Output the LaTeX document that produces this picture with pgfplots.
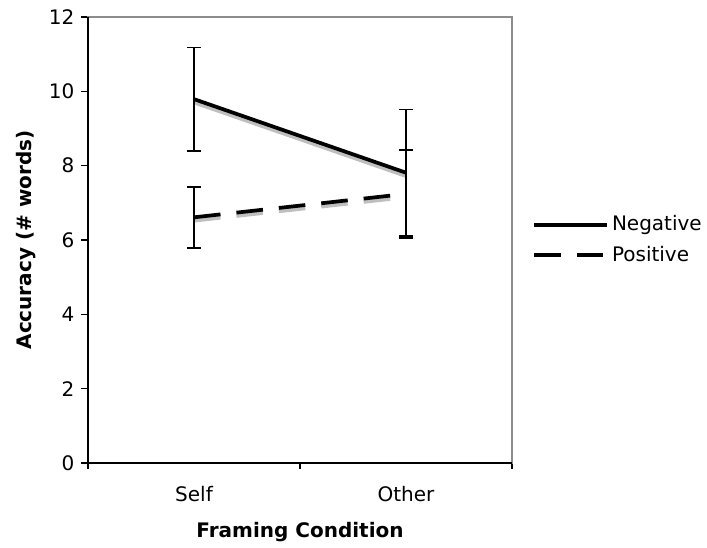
\documentclass[border=0pt]{standalone}
\usepackage{fontspec}
\setmainfont{DejaVu Sans}
\usepackage{pgfplots}
\pgfplotsset{compat=1.18}
\begin{document}
\fontsize{15}{18}\selectfont
\begin{tikzpicture}
\begin{axis}[
  scale only axis,
  width=318pt, height=334.5pt,
  xmin=-0.5, xmax=1.5, ymin=0, ymax=12,
  ytick={0,2,...,12},
  xtick={0,1}, xticklabels={Self,Other},
  minor xtick={-0.5,0.5,1.5},
  major x tick style={draw=none},
  tick align=outside, tick pos=left,
  major tick length=5pt, minor tick length=4.5pt,
  tick style={black, line width=0.8pt},
  axis line style={draw=gray!90, line width=1pt},
  /pgf/number format/assume math mode=true,
  font=\fontsize{15}{18}\selectfont,
  xticklabel style={yshift=-7.5pt},
  xlabel style={yshift=-5pt},
  xlabel={\bfseries Framing Condition},
  ylabel={\bfseries Accuracy (\# words)},
  legend style={at={(1,0.5)}, anchor=west, draw=none, fill=none, xshift=12pt,
    font=\fontsize{15}{18}\selectfont, row sep=5pt},
  legend cell align=left,
  legend image code/.code={\draw[#1] (0pt,0pt) -- (48.75pt,0pt); \path (0pt,0pt) -- (55pt,0pt);},
  clip=false,
]
\draw[black, line width=1pt] (rel axis cs:0,1) -- (rel axis cs:0,0) -- (rel axis cs:1,0);
% shadows
\addplot[gray!50, line width=2.8pt, yshift=-2.5pt, forget plot] coordinates {(0,9.79) (1,7.81)};
\addplot[gray!50, line width=2.8pt, yshift=-2.5pt, dash pattern=on 20pt off 12pt, forget plot] coordinates {(0,6.61) (1,7.24)};
% main lines
\addplot[black, line width=2.8pt,
  error bars/.cd, y dir=both, y explicit,
  error bar style={line width=1.4pt, solid},
  error mark options={rotate=90, mark size=5pt, line width=1.4pt, solid}]
  coordinates {(0,9.79) +- (0,1.39) (1,7.81) +- (0,1.70)};
\addlegendentry{Negative}
\addplot[black, line width=2.8pt, dash pattern=on 20pt off 12pt,
  error bars/.cd, y dir=both, y explicit,
  error bar style={line width=1.4pt, solid},
  error mark options={rotate=90, mark size=5pt, line width=1.4pt, solid}]
  coordinates {(0,6.61) +- (0,0.82) (1,7.24) +- (0,1.18)};
\addlegendentry{Positive}
\end{axis}
\pgfresetboundingbox
\path (-66pt,-63.75pt) rectangle (464.25pt,347.25pt);
\end{tikzpicture}
\end{document}
